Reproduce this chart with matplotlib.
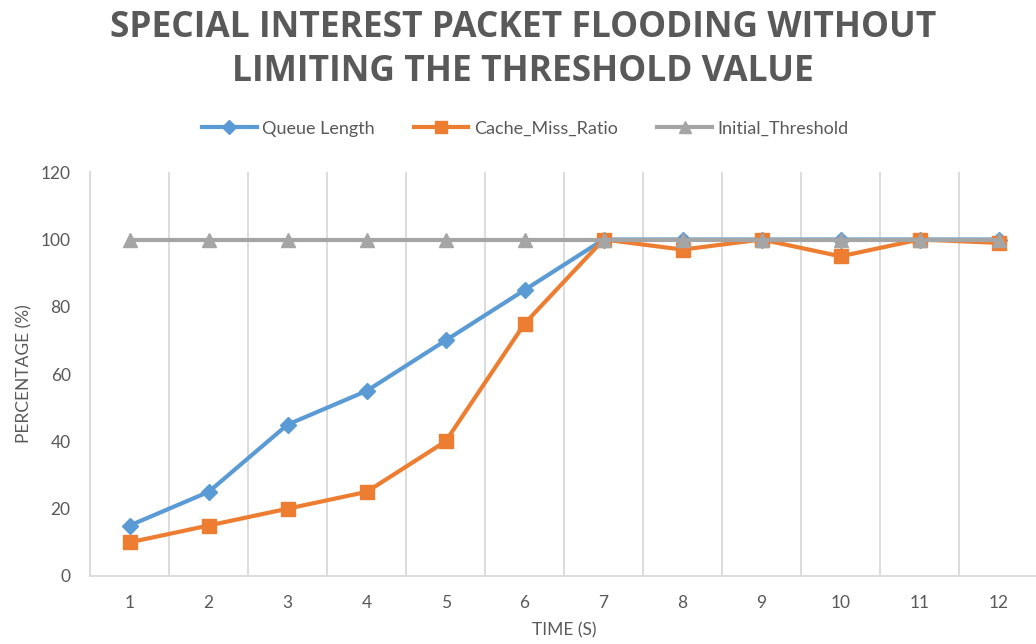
import matplotlib
matplotlib.use('Agg')
import matplotlib.pyplot as plt

time_s = [1, 2, 3, 4, 5, 6, 7, 8, 9, 10, 11, 12]
queue_length = [15, 25, 45, 55, 70, 85, 100, 100, 100, 100, 100, 100]
cache_miss_ratio = [10, 15, 20, 25, 40, 75, 100, 97, 100, 95, 100, 99]
initial_threshold = [100, 100, 100, 100, 100, 100, 100, 100, 100, 100, 100, 100]

text_color = '#595959'
grid_color = '#D9D9D9'

fig = plt.figure(figsize=(10.36, 6.44), dpi=100)
ax = fig.add_axes([0.087, 0.1056, 0.915, 0.627])

ax.plot(time_s, queue_length, color='#5B9BD5', lw=3, marker='D', ms=8,
        label='Queue Length', zorder=3)
ax.plot(time_s, cache_miss_ratio, color='#ED7D31', lw=3, marker='s', ms=10,
        label='Cache_Miss_Ratio', zorder=4)
ax.plot(time_s, initial_threshold, color='#A5A5A5', lw=3, marker='^', ms=10,
        label='Initial_Threshold', zorder=5)

ax.set_xlim(0.5, 12.5)
ax.set_ylim(0, 120)
ax.set_yticks(range(0, 121, 20))
ax.set_xticks(time_s)
ax.set_xticks([x + 0.5 for x in range(0, 12)], minor=True)
ax.grid(True, which='minor', axis='x', color=grid_color, lw=1.3)
ax.tick_params(which='both', length=0)
ax.tick_params(axis='both', labelcolor=text_color, labelsize=12.5, pad=14)
for lab in ax.get_xticklabels() + ax.get_yticklabels():
    lab.set_family('Lato')

for side in ['top', 'right']:
    ax.spines[side].set_visible(False)
for side in ['left', 'bottom']:
    ax.spines[side].set_color(grid_color)
    ax.spines[side].set_linewidth(1.3)

ax.set_xlabel('TIME (S)', color=text_color, fontsize=12.5, family='Lato', labelpad=8)
ax.set_ylabel('PERCENTAGE (%)', color=text_color, fontsize=12.5, family='Lato', labelpad=6)

fig.text(0.505, 0.985, 'SPECIAL INTEREST PACKET FLOODING WITHOUT\nLIMITING THE THRESHOLD VALUE',
         ha='center', va='top', fontsize=25.5, fontweight='bold', color=text_color,
         family='Open Sans', linespacing=1.3)

leg = fig.legend(loc='center', bbox_to_anchor=(0.507, 0.8), ncol=3, frameon=False,
                 prop={'family': 'Lato', 'size': 13}, handlelength=3.0,
                 handletextpad=0.3, columnspacing=2.2, markerscale=0.85)
for t in leg.get_texts():
    t.set_color(text_color)

fig.savefig('out.png', dpi=100)
